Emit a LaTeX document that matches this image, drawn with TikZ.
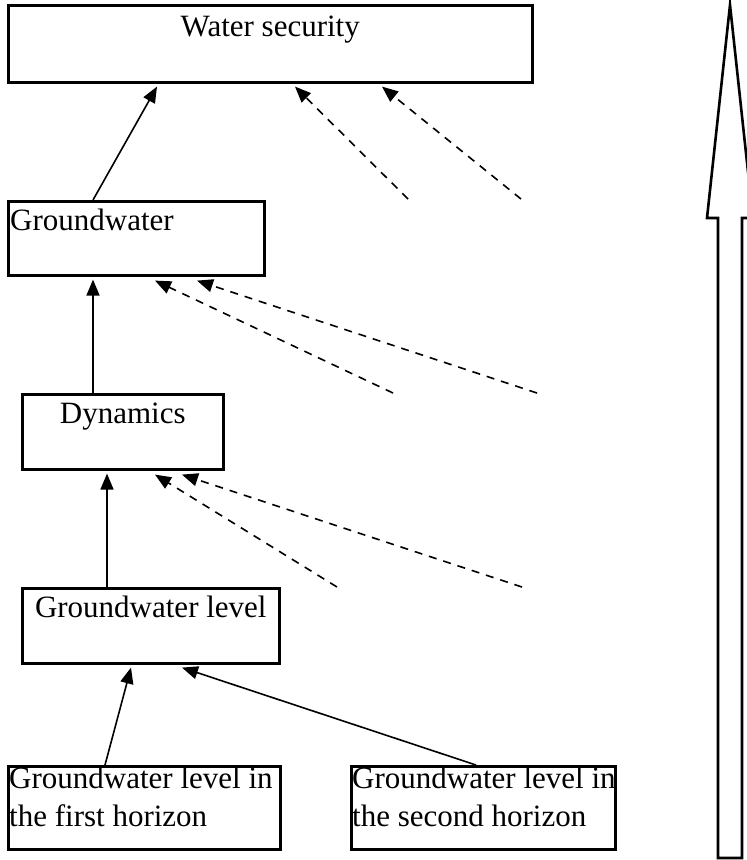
\documentclass[tikz,border=0pt]{standalone}
\usepackage{fontspec}
\setmainfont{Liberation Serif}
\usetikzlibrary{arrows.meta,calc}

\tikzset{
  box/.style={draw, line width=2.6pt, rectangle, anchor=north west, inner sep=0pt},
  lbl/.style={inner sep=0pt, font=\fontsize{31}{38}\selectfont},
  conn/.style={line width=1.6pt, -{Triangle[length=16pt,width=13pt]}},
  dconn/.style={conn, dash pattern=on 8pt off 7pt},
  bigarrow/.style={line width=2.6pt, line join=miter}
}

\begin{document}
\begin{tikzpicture}[x=1pt,y=-1pt]
\useasboundingbox (0,0) rectangle (747,860);

% boxes of the hierarchy
\node[box, minimum width=524pt, minimum height=77pt] (ws) at (7,4) {};
\node[box, minimum width=256pt, minimum height=74pt] (gw) at (7,200) {};
\node[box, minimum width=201pt, minimum height=75pt] (dyn) at (21,393) {};
\node[box, minimum width=257pt, minimum height=75pt] (gwl) at (21,587) {};
\node[box, minimum width=272pt, minimum height=83pt] (hA) at (7,765) {};
\node[box, minimum width=264pt, minimum height=83pt] (hB) at (350,765) {};

% box texts
\node[lbl, anchor=base] (wsT) at ($(ws.north)+(0,32)$) {Water security};
\node[lbl, anchor=base west] (gwT) at ($(gw.north west)+(3,30)$) {Groundwater};
\node[lbl, anchor=base] (dynT) at ($(dyn.north)+(0,30)$) {Dynamics};
\node[lbl, anchor=base] (gwlT) at ($(gwl.north)+(0,30)$) {Groundwater level};
\node[lbl, anchor=base west] (hAa) at ($(hA.north west)+(2,23)$) {Groundwater level in};
\node[lbl, anchor=base west] (hAb) at ($(hA.north west)+(2,61)$) {the first horizon};
\node[lbl, anchor=base west] (hBa) at ($(hB.north west)+(2,23)$) {Groundwater level in};
\node[lbl, anchor=base west] (hBb) at ($(hB.north west)+(2,61)$) {the second horizon};

% free ends of the dashed influences
\coordinate (d1) at (408,199);
\coordinate (d2) at (521,199);
\coordinate (d3) at (393,393);
\coordinate (d4) at (537,393);
\coordinate (d5) at (337,587);
\coordinate (d6) at (522,587);

% solid links
\draw[conn] ($(gw.north west)+(86,0)$) -- ($(ws.south west)+(150,3)$);
\draw[conn] ($(dyn.north west)+(72,0)$) -- ($(gw.south west)+(86,3)$);
\draw[conn] ($(gwl.north west)+(86,0)$) -- ($(dyn.south west)+(86,3)$);
\draw[conn] ($(hA.north west)+(98,0)$) -- ($(gwl.south west)+(110,3)$);
\draw[conn] ($(hB.north west)+(126,0)$) -- ($(gwl.south west)+(161,3)$);

% dashed links
\draw[dconn] (d1) -- ($(ws.south west)+(288,3)$);
\draw[dconn] (d2) -- ($(ws.south west)+(375,3)$);
\draw[dconn] (d3) -- ($(gw.south west)+(148,4)$);
\draw[dconn] (d4) -- ($(gw.south west)+(190,4)$);
\draw[dconn] (d5) -- ($(dyn.south west)+(134,4)$);
\draw[dconn] (d6) -- ($(dyn.south west)+(161,4)$);

% large upward arrow on the right
\begin{scope}
\clip (0,0) rectangle (747,860);
\draw[bigarrow] (730,5) -- (707,218) -- (718,218) -- (718,858) -- (742,858)
  -- (742,218) -- (753,218) -- cycle;
\end{scope}
\end{tikzpicture}
\end{document}
